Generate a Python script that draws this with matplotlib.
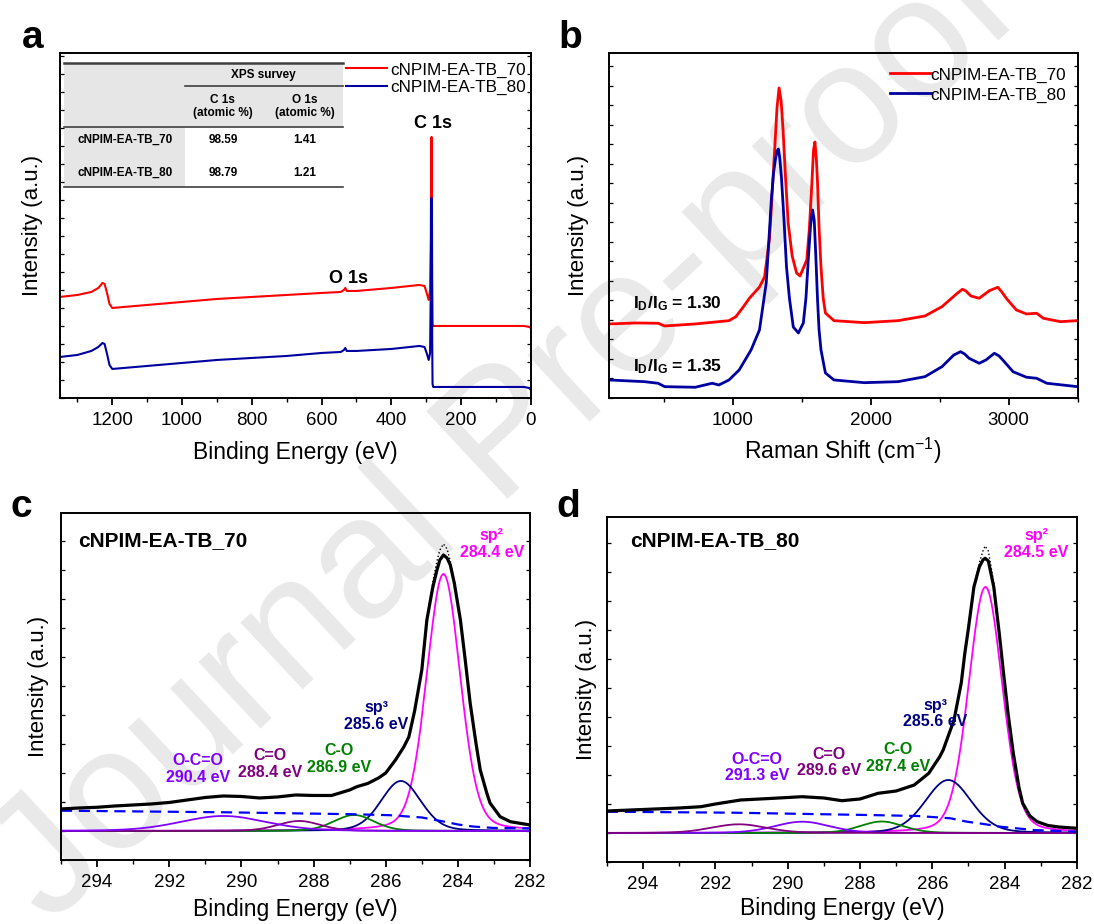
import numpy as np
import matplotlib.pyplot as plt
from matplotlib.ticker import MultipleLocator
from matplotlib.patches import Rectangle
from matplotlib.lines import Line2D

plt.rcParams['font.family'] = ['Liberation Sans', 'DejaVu Sans']
plt.rcParams['mathtext.fontset'] = 'custom'
plt.rcParams['mathtext.rm'] = 'Liberation Sans'
plt.rcParams['mathtext.bf'] = 'Liberation Sans:bold'
plt.rcParams['mathtext.it'] = 'Liberation Sans:italic'

RED = '#ff0000'
BLUE = '#0000a0'
labels = ['cNPIM-EA-TB_70', 'cNPIM-EA-TB_80']

# ---- (a) XPS survey
svy_be = [1350, 1300, 1260, 1240, 1228, 1222, 1215, 1208, 1200, 1100, 1000, 900, 800,
          700, 600, 545, 536, 532, 528, 500, 400, 320, 305, 298, 293, 289, 287, 286,
          285, 284, 283, 282, 280, 200, 100, 20, 5, 0]
svy_70 = [101, 103, 106, 110, 115, 114, 105, 94, 90, 93, 96, 99, 101,
          103, 105, 106, 108, 110, 107, 107, 110, 113, 112, 104, 98, 108, 160, 230,
          261, 230, 120, 75, 72, 72, 72, 72, 71, 70]
svy_80 = [41, 43, 47, 51, 55, 54, 44, 33, 29, 32, 35, 38, 40,
          42, 45, 46, 48, 50, 47, 47, 49, 52, 51, 44, 38, 45, 110, 170,
          200, 170, 60, 14, 11, 11, 11, 11, 10, 8]
tbl_samples = ['cNPIM-EA-TB_70', 'cNPIM-EA-TB_80']
tbl_c1s = ['98.59', '98.79']
tbl_o1s = ['1.41', '1.21']

# ---- (b) Raman
ram_x70 = [100, 300, 458, 506, 727, 972, 1022, 1070, 1120, 1193, 1230, 1267, 1285, 1303,
           1320, 1335, 1350, 1364, 1380, 1401, 1430, 1462, 1487, 1536, 1555, 1573, 1585,
           1595, 1605, 1614, 1625, 1639, 1655, 1671, 1733, 1953, 2198, 2393, 2516, 2627,
           2664, 2690, 2725, 2786, 2860, 2921, 2950, 2982, 3055, 3129, 3202, 3251, 3374, 3500]
ram_70 = [74, 75, 74.7, 72, 74, 77.3, 81.3, 90, 99.7, 111, 121, 161, 205, 248,
          290, 310, 297, 268, 225, 175, 142, 125, 122, 138, 170, 215, 248,
          256, 240, 215, 170, 131, 100, 85, 77.3, 75.3, 77.3, 82, 91.3, 104.7,
          108.7, 107, 102, 99.7, 107.3, 110.7, 106, 99.7, 88, 84, 84.7, 79.7, 76.3, 77.3]
ram_x80 = [100, 359, 458, 506, 727, 850, 899, 972, 1046, 1132, 1193, 1242, 1260, 1279,
           1295, 1308, 1320, 1330, 1340, 1352, 1370, 1389, 1410, 1438, 1475, 1511, 1530,
           1548, 1563, 1578, 1590, 1602, 1614, 1625, 1639, 1671, 1733, 1953, 2198, 2393,
           2516, 2602, 2651, 2680, 2712, 2786, 2835, 2896, 2930, 2957, 3031, 3129, 3202,
           3276, 3500]
ram_80 = [18, 16.3, 14.7, 11.3, 10.7, 14.7, 13, 18, 28, 48, 68, 115, 155, 198,
          225, 238, 247, 249, 240, 221, 180, 131, 100, 71, 65, 75, 100,
          141, 172, 188, 178, 140, 98, 68, 48, 25, 18, 15.3, 16.3, 21.3,
          31.3, 43, 46.3, 44, 39.7, 34.7, 38, 44.7, 42, 38, 26.3, 20.7, 19.7,
          14.7, 11.3]
id_ig = ['1.30', '1.35']

# ---- (c) C 1s, cNPIM-EA-TB_70 (envelope + raw)
c_be = [295, 294.5, 294, 293.5, 293, 292.5, 292, 291.5, 291, 290.5, 290, 289.5, 289,
        288.5, 288, 287.5, 287, 286.8, 286.5, 286.2, 286, 285.73, 285.5, 285.36, 285.2,
        285.0, 284.86, 284.7, 284.58, 284.5, 284.4, 284.3, 284.21, 284.1, 283.93, 283.8,
        283.66, 283.5, 283.38, 283.2, 283.11, 282.83, 282.55, 282.0]
c_fit = [22, 23, 23.7, 25, 26, 27, 28.5, 31, 33.5, 35, 34.5, 33, 34,
         36, 35.5, 35.5, 41, 44.3, 47.5, 53, 58, 71, 84, 94, 120,
         161, 211, 243, 261, 271, 276, 273, 266, 248, 211, 172,
         128, 88, 61, 38, 28, 14.3, 9.3, 6]
c_raw = [22, 23, 23.7, 25, 26, 27, 28.5, 31, 33.5, 35, 34.5, 33, 34,
         36, 35.5, 35.5, 41, 44.3, 47.5, 53, 58, 71, 84, 94, 120,
         161, 211, 248, 270, 281, 287, 282, 270, 249, 211, 172,
         128, 88, 61, 38, 28, 14.3, 9.3, 6]
c_bg_be = [295, 290.5, 287.0, 285.9, 285.0, 284.4, 284.0, 283.6, 283.0, 282.0]
c_bg = [20.3, 18.7, 16.8, 15.8, 13.5, 9.5, 6.5, 4.5, 3.0, 2.6]
c_names = ['sp²', 'sp³', 'C-O', 'C=O', 'O-C=O']
c_pos = [284.40, 285.58, 286.88, 288.40, 290.50]
c_hgt = [257, 50, 16, 10, 15]
c_fwhm = [1.1, 1.3, 1.3, 1.4, 2.8]
c_lab = ['284.4 eV', '285.6 eV', '286.9 eV', '288.4 eV', '290.4 eV']

# ---- (d) C 1s, cNPIM-EA-TB_80
d_be = [295, 294, 293, 292.4, 292, 291.3, 290.5, 289.6, 289, 288.5, 288, 287.5, 287,
        286.5, 286.1, 285.8, 285.7, 285.4, 285.2, 285.1, 285.0, 284.85, 284.7, 284.6,
        284.54, 284.45, 284.3, 284.15, 284.04, 283.9, 283.76, 283.6, 283.5, 283.3, 283.1,
        282.8, 282.5, 282.0]
d_fit = [22, 23.5, 25, 26.3, 29, 33, 34.5, 36.3, 35, 32.3, 34, 39.7, 42,
         48, 59.7, 76, 83, 113, 150, 180, 205, 246, 266, 273,
         274.7, 272, 246, 200, 163, 118, 79.7, 45, 29.7, 17, 11.3,
         7.5, 6, 4.7]
d_raw = [22, 23.5, 25, 26.3, 29, 33, 34.5, 36.3, 35, 32.3, 34, 39.7, 42,
         48, 59.7, 76, 83, 113, 150, 180, 205, 246, 270, 282,
         287, 282, 250, 200, 163, 118, 79.7, 45, 29.7, 17, 11.3,
         7.5, 6, 4.7]
d_bg_be = [295, 291.5, 287.8, 286.4, 285.5, 285.04, 284.58, 284.12, 283.2, 282.0]
d_bg = [21.3, 20.3, 18.0, 17.0, 14.7, 11.3, 9.0, 6.3, 3.0, 1.3]
d_names = ['sp²', 'sp³', 'C-O', 'C=O', 'O-C=O']
d_pos = [284.53, 285.56, 287.40, 289.60, 291.35]
d_hgt = [246, 53, 11.5, 11.3, 8.7]
d_fwhm = [1.1, 1.5, 1.4, 1.8, 1.8]
d_lab = ['284.5 eV', '285.6 eV', '287.4 eV', '289.6 eV', '291.3 eV']

PINK, NAVY, GREEN, PURPLE, VIOLET = '#ff00ff', '#000080', '#008000', '#800080', '#8000ff'
c_cols = [PINK, NAVY, GREEN, PURPLE, VIOLET]
d_curve_cols = [PINK, NAVY, GREEN, VIOLET, PURPLE]


def pvoigt(x, c, h, w, eta=0.2):
    u = (x - c) / (w / 2)
    return h * ((1 - eta) * np.exp(-np.log(2) * u ** 2) + eta / (1 + u ** 2))


def style(ax, ystep, xmaj, xmin, xl, yl):
    ax.set_facecolor('none')
    for s in ax.spines.values():
        s.set_linewidth(1.4)
    ax.set_xlim(*xl)
    ax.set_ylim(*yl)
    ax.xaxis.set_major_locator(MultipleLocator(xmaj))
    ax.xaxis.set_minor_locator(MultipleLocator(xmin))
    ax.yaxis.set_major_locator(MultipleLocator(ystep))
    ax.tick_params(axis='x', which='major', direction='out', length=5, width=1.3,
                   labelsize=13.5, pad=5)
    ax.tick_params(axis='x', which='minor', direction='out', length=3, width=1.0)
    ax.tick_params(axis='y', which='major', direction='in', length=3, width=0.9,
                   left=True, right=True, labelleft=False)


fig = plt.figure(figsize=(10.94, 9.24), dpi=100)
# watermark of the source page
fig.text(0.4625, 0.525, 'Journal Pre-proof', rotation=43, fontsize=124, color='#e9e9e9',
         ha='center', va='center', zorder=-5)

# ---------------- (a)
ax = fig.add_axes([0.0548, 0.5693, 0.4305, 0.3734])
style(ax, 18, 200, 100, (1350, 0), (0, 345))
ax.plot(svy_be, svy_70, color=RED, lw=1.5, label=labels[0])
ax.plot(svy_be, svy_80, color=BLUE, lw=1.5, label=labels[1])
ax.set_xlabel('Binding Energy (eV)', fontsize=16.5, labelpad=9)
ax.set_ylabel('Intensity (a.u.)', fontsize=16, labelpad=12)
ax.legend(loc='upper right', bbox_to_anchor=(0.99, 0.9725), frameon=False, fontsize=12.3,
          handlelength=2.4, handletextpad=0.2, borderpad=0, borderaxespad=0,
          labelspacing=0.15)
ax.text(0.792, 0.796, 'C 1s', transform=ax.transAxes, fontsize=13, fontweight='bold',
        ha='center', va='center')
ax.text(0.6136, 0.345, 'O 1s', transform=ax.transAxes, fontsize=13, fontweight='bold',
        ha='center', va='center')
# inset table
T = ax.transAxes
gray = '#e6e6e6'
ax.add_patch(Rectangle((0.0085, 0.6116), 0.2569, 0.9710 - 0.6116, transform=T,
                       facecolor=gray, edgecolor='none', zorder=1))
ax.add_patch(Rectangle((0.2654, 0.7855), 0.3354, 0.9710 - 0.7855, transform=T,
                       facecolor=gray, edgecolor='none', zorder=1))
for (x0, x1, y, lw) in [(0.0085, 0.6008, 0.9710, 1.8), (0.2654, 0.6008, 0.9043, 1.2),
                        (0.0085, 0.6008, 0.7855, 1.2), (0.0085, 0.6008, 0.6116, 1.2)]:
    ax.add_line(Line2D([x0, x1], [y, y], transform=T, color='#404040', lw=lw, zorder=2))
tkw = dict(transform=T, fontsize=8.5, fontweight='bold', ha='center', va='center', zorder=3)
ax.text(0.431, 0.936, 'XPS survey', **tkw)
ax.text(0.346, 0.865, 'C 1s', **tkw)
ax.text(0.346, 0.826, '(atomic %)', **tkw)
ax.text(0.520, 0.865, 'O 1s', **tkw)
ax.text(0.520, 0.826, '(atomic %)', **tkw)
for i, yy in enumerate([0.748, 0.652]):
    ax.text(0.138, yy, tbl_samples[i], **tkw)
    ax.text(0.346, yy, tbl_c1s[i], **tkw)
    ax.text(0.520, yy, tbl_o1s[i], **tkw)

# ---------------- (b)
ax = fig.add_axes([0.5564, 0.5693, 0.4287, 0.3734])
style(ax, 19.5, 1000, 500, (100, 3500), (0, 345))
ax.plot(ram_x70, ram_70, color=RED, lw=2.0, label=labels[0])
ax.plot(ram_x80, ram_80, color=BLUE, lw=2.0, label=labels[1])
ax.set_xlabel('Raman Shift (cm$^{-1}$)', fontsize=16.5, labelpad=5)
ax.set_ylabel('Intensity (a.u.)', fontsize=16, labelpad=14)
ax.legend(loc='upper right', bbox_to_anchor=(0.976, 0.958), frameon=False, fontsize=12.3,
          handlelength=2.4, handletextpad=0.0, borderpad=0, borderaxespad=0,
          labelspacing=0.28)
for yy, v in zip([0.2745, 0.0907], id_ig):
    ax.text(0.052, yy, r'$\mathbf{I_D/I_G}$ = ' + v, transform=ax.transAxes,
            fontsize=12.5, fontweight='bold', ha='left', va='center')

# ---------------- (c), (d)
grid = np.linspace(282, 295, 1301)
panels = [
    ([0.0558, 0.0693, 0.4287, 0.3755], (-29, 318), c_be, c_fit, c_raw, c_bg_be, c_bg,
     c_pos, c_hgt, c_fwhm, c_cols, c_cols, c_names, c_lab, 'cNPIM-EA-TB_70',
     (0.036, 0.922), [(283.06, 287), (286.27, 115), (287.3, 72), (289.2, 67), (291.2, 62)],
     9, 5),
    ([0.5548, 0.0671, 0.4296, 0.3734], (-29, 316), d_be, d_fit, d_raw, d_bg_be, d_bg,
     d_pos, d_hgt, d_fwhm, d_curve_cols, c_cols, d_names, d_lab, 'cNPIM-EA-TB_80',
     (0.049, 0.931),
     [(283.12, 289), (285.91, 119.5), (286.94, 75), (288.85, 70.5), (290.85, 65.5)], 7, 3),
]
for (rect, yl, be, fit, raw, bgx, bgy, pos, hgt, fw, ccols, tcols, names, labs, title,
     tpos, lpos, lpad, xpad) in panels:
    ax = fig.add_axes(rect)
    style(ax, 29, 2, 1, (295, 282), yl)
    for p, h, w, col in zip(pos, hgt, fw, ccols):
        ax.plot(grid, pvoigt(grid, p, h, w), color=col, lw=1.3)
    ax.plot(bgx, bgy, color='#0000ff', lw=1.6, ls=(0, (5, 3)))
    ax.plot(be, raw, color='black', lw=1.0, ls=':')
    ax.plot(be, fit, color='black', lw=2.3)
    ax.set_xlabel('Binding Energy (eV)', fontsize=16.5, labelpad=xpad)
    ax.set_ylabel('Intensity (a.u.)', fontsize=16, labelpad=lpad)
    ax.text(tpos[0], tpos[1], title, transform=ax.transAxes, fontsize=15,
            fontweight='bold', ha='left', va='center')
    for (lx, ly), nm, lb, col in zip(lpos, names, labs, tcols):
        ax.text(lx, ly, nm + '\n' + lb, color=col, fontsize=11.5, fontweight='bold',
                ha='center', va='center', linespacing=1.15)

# panel letters
for lt, x, y in [('a', 22, 48), ('b', 558, 48), ('c', 10, 517), ('d', 556, 517)]:
    fig.text(x / 1094, 1 - y / 924, lt, fontsize=28, fontweight='bold', ha='left',
             va='baseline')

fig.savefig('out.png', dpi=100)
